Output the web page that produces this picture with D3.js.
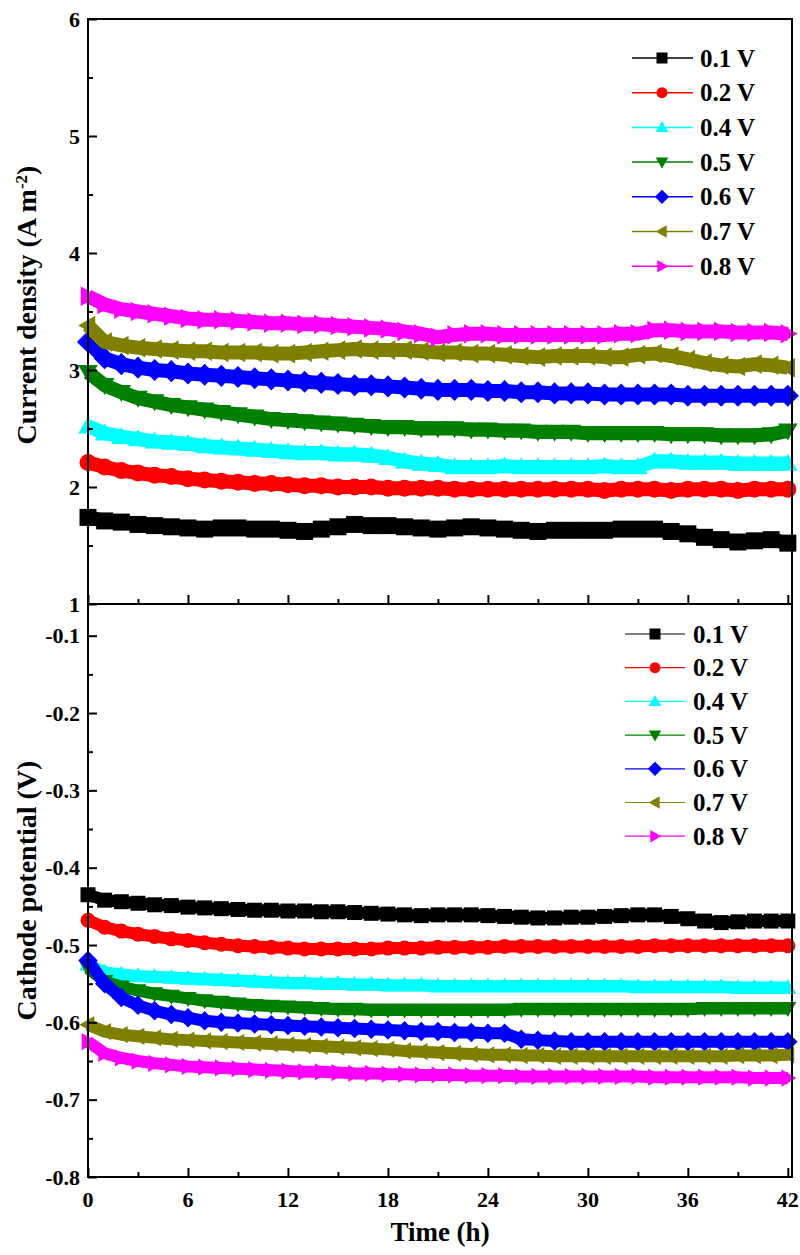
<!DOCTYPE html>
<html>
<head>
<meta charset="utf-8">
<script src="https://cdn.jsdelivr.net/npm/d3@7"></script>
<style>
  body { margin: 0; background: #fff; }
  svg { display: block; }
</style>
</head>
<body>
<svg id="chart" width="800" height="1255"></svg>
<script>
// Sampling times (h)
const hours = [0,1,2,3,4,5,6,7,8,9,10,11,12,13,14,15,16,17,18,19,20,21,22,23,24,25,26,27,28,29,30,31,32,33,34,35,36,37,38,39,40,41,42];

const seriesNames  = ["0.1 V", "0.2 V", "0.4 V", "0.5 V", "0.6 V", "0.7 V", "0.8 V"];
const seriesColors = ["#000000", "#ff0000", "#00ffff", "#008000", "#0000ff", "#808000", "#ff00ff"];
const seriesShapes = ["square", "circle", "triangleUp", "triangleDown", "diamond", "triangleLeft", "triangleRight"];

// Current density (A m^-2) per applied voltage
const cd01 = [1.74,1.71,1.70,1.68,1.67,1.66,1.65,1.64,1.65,1.65,1.64,1.64,1.63,1.62,1.64,1.66,1.68,1.67,1.67,1.66,1.65,1.64,1.65,1.66,1.65,1.64,1.63,1.62,1.63,1.63,1.63,1.63,1.64,1.64,1.64,1.62,1.60,1.57,1.55,1.53,1.54,1.55,1.52];
const cd02 = [2.21,2.17,2.14,2.12,2.10,2.09,2.07,2.06,2.05,2.04,2.03,2.03,2.02,2.01,2.01,2.00,2.00,2.00,1.99,1.99,1.99,1.99,1.98,1.98,1.98,1.98,1.98,1.98,1.98,1.98,1.98,1.97,1.98,1.98,1.98,1.97,1.98,1.98,1.98,1.97,1.98,1.98,1.98];
const cd04 = [2.52,2.46,2.43,2.41,2.39,2.38,2.37,2.35,2.34,2.33,2.32,2.31,2.30,2.29,2.29,2.28,2.28,2.27,2.25,2.22,2.20,2.19,2.17,2.17,2.17,2.18,2.17,2.17,2.17,2.17,2.17,2.18,2.17,2.17,2.22,2.22,2.21,2.21,2.21,2.20,2.20,2.20,2.20];
const cd05 = [2.98,2.87,2.81,2.76,2.73,2.70,2.68,2.66,2.64,2.62,2.60,2.58,2.57,2.56,2.55,2.54,2.53,2.52,2.51,2.51,2.50,2.50,2.50,2.49,2.49,2.48,2.48,2.47,2.47,2.47,2.46,2.46,2.46,2.46,2.46,2.45,2.45,2.45,2.44,2.44,2.44,2.45,2.48];
const cd06 = [3.24,3.10,3.05,3.02,3.00,2.99,2.97,2.96,2.95,2.94,2.93,2.92,2.91,2.90,2.89,2.88,2.87,2.87,2.86,2.85,2.84,2.83,2.83,2.83,2.82,2.82,2.81,2.81,2.80,2.80,2.80,2.79,2.79,2.79,2.79,2.79,2.78,2.78,2.78,2.78,2.78,2.78,2.78];
const cd07 = [3.38,3.24,3.21,3.19,3.18,3.17,3.16,3.16,3.15,3.15,3.15,3.14,3.14,3.15,3.16,3.17,3.18,3.17,3.17,3.17,3.16,3.15,3.15,3.14,3.14,3.13,3.12,3.11,3.12,3.12,3.12,3.11,3.11,3.13,3.14,3.12,3.09,3.06,3.04,3.03,3.05,3.04,3.02];
const cd08 = [3.63,3.56,3.52,3.50,3.48,3.46,3.44,3.43,3.43,3.42,3.41,3.40,3.40,3.39,3.39,3.38,3.37,3.36,3.35,3.33,3.31,3.28,3.30,3.31,3.31,3.30,3.30,3.30,3.30,3.30,3.30,3.30,3.31,3.31,3.34,3.34,3.33,3.33,3.33,3.32,3.32,3.32,3.31];

// Cathode potential (V) per applied voltage
const cp01 = [-0.435,-0.442,-0.444,-0.446,-0.448,-0.449,-0.451,-0.452,-0.453,-0.454,-0.455,-0.455,-0.456,-0.456,-0.457,-0.457,-0.458,-0.459,-0.460,-0.461,-0.462,-0.461,-0.461,-0.461,-0.462,-0.463,-0.464,-0.465,-0.465,-0.464,-0.464,-0.463,-0.462,-0.461,-0.461,-0.463,-0.466,-0.469,-0.471,-0.470,-0.469,-0.469,-0.469];
const cp02 = [-0.468,-0.477,-0.482,-0.486,-0.489,-0.492,-0.494,-0.497,-0.499,-0.501,-0.502,-0.503,-0.504,-0.505,-0.505,-0.505,-0.505,-0.505,-0.504,-0.504,-0.504,-0.503,-0.503,-0.503,-0.503,-0.502,-0.502,-0.502,-0.502,-0.502,-0.502,-0.502,-0.502,-0.502,-0.501,-0.501,-0.501,-0.501,-0.501,-0.501,-0.501,-0.501,-0.501];
const cp04 = [-0.525,-0.535,-0.538,-0.540,-0.541,-0.542,-0.543,-0.544,-0.545,-0.546,-0.547,-0.548,-0.549,-0.549,-0.550,-0.550,-0.551,-0.551,-0.552,-0.552,-0.552,-0.553,-0.553,-0.553,-0.553,-0.553,-0.553,-0.553,-0.553,-0.553,-0.553,-0.553,-0.553,-0.554,-0.554,-0.554,-0.554,-0.554,-0.554,-0.555,-0.555,-0.555,-0.555];
const cp05 = [-0.530,-0.547,-0.554,-0.559,-0.563,-0.566,-0.569,-0.572,-0.574,-0.576,-0.578,-0.579,-0.580,-0.581,-0.582,-0.583,-0.583,-0.584,-0.584,-0.584,-0.584,-0.584,-0.584,-0.584,-0.584,-0.584,-0.583,-0.583,-0.583,-0.583,-0.583,-0.583,-0.583,-0.583,-0.583,-0.583,-0.583,-0.582,-0.582,-0.582,-0.582,-0.582,-0.582];
const cp06 = [-0.520,-0.550,-0.568,-0.578,-0.585,-0.590,-0.594,-0.598,-0.600,-0.601,-0.602,-0.603,-0.604,-0.605,-0.606,-0.607,-0.608,-0.609,-0.610,-0.611,-0.612,-0.612,-0.613,-0.613,-0.614,-0.614,-0.622,-0.623,-0.624,-0.625,-0.625,-0.625,-0.625,-0.625,-0.625,-0.625,-0.625,-0.625,-0.625,-0.625,-0.625,-0.625,-0.625];
const cp07 = [-0.603,-0.612,-0.616,-0.618,-0.620,-0.622,-0.623,-0.624,-0.625,-0.626,-0.627,-0.628,-0.629,-0.630,-0.631,-0.632,-0.633,-0.634,-0.635,-0.637,-0.638,-0.639,-0.640,-0.641,-0.642,-0.642,-0.643,-0.643,-0.644,-0.644,-0.644,-0.644,-0.644,-0.644,-0.644,-0.644,-0.644,-0.644,-0.644,-0.643,-0.643,-0.643,-0.642];
const cp08 = [-0.625,-0.640,-0.646,-0.650,-0.653,-0.655,-0.657,-0.658,-0.659,-0.660,-0.661,-0.662,-0.663,-0.664,-0.664,-0.665,-0.666,-0.666,-0.667,-0.667,-0.668,-0.668,-0.668,-0.669,-0.669,-0.669,-0.670,-0.670,-0.670,-0.670,-0.670,-0.670,-0.670,-0.670,-0.671,-0.671,-0.671,-0.671,-0.671,-0.671,-0.672,-0.672,-0.672];

const currentSeries = [cd01, cd02, cd04, cd05, cd06, cd07, cd08];
const potentialSeries = [cp01, cp02, cp04, cp05, cp06, cp07, cp08];

// Tick values and their printed labels
const xMajorTicks = [0, 6, 12, 18, 24, 30, 36, 42];
const xTickLabels = ["0", "6", "12", "18", "24", "30", "36", "42"];
const xMinorTicks = [3, 9, 15, 21, 27, 33, 39];
const cdMajorTicks = [1, 2, 3, 4, 5, 6];
const cdTickLabels = ["1", "2", "3", "4", "5", "6"];
const cdMinorTicks = [1.5, 2.5, 3.5, 4.5, 5.5];
const cpMajorTicks = [-0.8, -0.7, -0.6, -0.5, -0.4, -0.3, -0.2, -0.1];
const cpTickLabels = ["-0.8", "-0.7", "-0.6", "-0.5", "-0.4", "-0.3", "-0.2", "-0.1"];
const cpMinorTicks = [-0.75, -0.65, -0.55, -0.45, -0.35, -0.25, -0.15];

const FONT = '"Liberation Serif", "Times New Roman", serif';

const svg = d3.select("#chart");

const left = 88, right = 792, topY = 19, midY = 604, bottomY = 1177;

const x = d3.scaleLinear().domain([0, 42.25]).range([left, right]);
const yTop = d3.scaleLinear().domain([1, 6]).range([midY, topY]);
const yBot = d3.scaleLinear().domain([-0.8, -0.059]).range([bottomY, midY]);

// Marker outline for a given shape, centred on 0,0
function shapePath(shape, r) {
  switch (shape) {
    case "square": return `M${-r},${-r}H${r}V${r}H${-r}Z`;
    case "circle": { const p = d3.path(); p.arc(0, 0, r, 0, 2 * Math.PI); return p.toString(); }
    case "triangleUp": return `M0,${-r * 1.15}L${r * 1.15},${r * 0.85}L${-r * 1.15},${r * 0.85}Z`;
    case "triangleDown": return `M0,${r * 1.15}L${r * 1.15},${-r * 0.85}L${-r * 1.15},${-r * 0.85}Z`;
    case "triangleLeft": return `M${-r * 1.15},0L${r * 0.85},${-r * 1.15}L${r * 0.85},${r * 1.15}Z`;
    case "triangleRight": return `M${r * 1.15},0L${-r * 0.85},${-r * 1.15}L${-r * 0.85},${r * 1.15}Z`;
    case "diamond": return `M0,${-r * 1.3}L${r * 1.3},0L0,${r * 1.3}L${-r * 1.3},0Z`;
  }
}

function drawSeries(g, seriesList, yScale, markerR, lineW) {
  seriesList.forEach((vals, i) => {
    const pts = hours.map((h, k) => [h, vals[k]]);
    const line = d3.line().x(d => x(d[0])).y(d => yScale(d[1]));
    g.append("path")
      .attr("d", line(pts))
      .attr("fill", "none")
      .attr("stroke", seriesColors[i])
      .attr("stroke-width", lineW)
      .attr("stroke-linejoin", "round");
    g.selectAll(null).data(pts).enter().append("path")
      .attr("d", shapePath(seriesShapes[i], markerR))
      .attr("transform", d => `translate(${x(d[0])},${yScale(d[1])})`)
      .attr("fill", seriesColors[i]);
  });
}

drawSeries(svg.append("g"), currentSeries, yTop, 8.5, 14);
drawSeries(svg.append("g"), potentialSeries, yBot, 7.5, 12);

// Inward tick marks built with d3-axis (labels added separately below)
function tickOnly(g) {
  g.select(".domain").remove();
  g.selectAll(".tick text").remove();
  g.selectAll(".tick line").attr("stroke", "#000").attr("stroke-width", 2);
}
function addTicks(axisFn, scale, values, size, transform) {
  svg.append("g").attr("transform", transform)
    .call(axisFn(scale).tickValues(values).tickSize(-size).tickFormat(""))
    .call(tickOnly);
}
addTicks(d3.axisLeft, yTop, cdMajorTicks, 9, `translate(${left},0)`);
addTicks(d3.axisLeft, yTop, cdMinorTicks, 5, `translate(${left},0)`);
addTicks(d3.axisLeft, yBot, cpMajorTicks, 9, `translate(${left},0)`);
addTicks(d3.axisLeft, yBot, cpMinorTicks, 5, `translate(${left},0)`);
addTicks(d3.axisBottom, x, xMajorTicks, 9, `translate(0,${midY})`);
addTicks(d3.axisBottom, x, xMinorTicks, 5, `translate(0,${midY})`);
addTicks(d3.axisBottom, x, xMajorTicks, 9, `translate(0,${bottomY})`);
addTicks(d3.axisBottom, x, xMinorTicks, 5, `translate(0,${bottomY})`);

// Tick labels
function label(g, tx, ty, txt, anchor, size) {
  g.append("text")
    .attr("x", tx).attr("y", ty)
    .attr("text-anchor", anchor)
    .attr("font-family", FONT)
    .attr("font-weight", "bold")
    .attr("font-size", size)
    .attr("fill", "#000")
    .text(txt);
}
const labels = svg.append("g");
cdMajorTicks.forEach((v, i) => label(labels, left - 8, yTop(v) + 7.5, cdTickLabels[i], "end", 22));
cpMajorTicks.forEach((v, i) => label(labels, left - 8, yBot(v) + 7.5, cpTickLabels[i], "end", 22));
xMajorTicks.forEach((v, i) => label(labels, x(v), bottomY + 30, xTickLabels[i], "middle", 22));

// Panel frames
svg.append("rect").attr("x", left).attr("y", topY).attr("width", right - left).attr("height", midY - topY)
  .attr("fill", "none").attr("stroke", "#000").attr("stroke-width", 2);
svg.append("rect").attr("x", left).attr("y", midY).attr("width", right - left).attr("height", bottomY - midY)
  .attr("fill", "none").attr("stroke", "#000").attr("stroke-width", 2);

// Legends
function drawLegend(x0, x1, xm, xt, y0, dy, lineW) {
  const g = svg.append("g");
  seriesNames.forEach((name, i) => {
    const yy = y0 + i * dy;
    g.append("line").attr("x1", x0).attr("x2", x1).attr("y1", yy).attr("y2", yy)
      .attr("stroke", seriesColors[i]).attr("stroke-width", lineW);
    g.append("path").attr("d", shapePath(seriesShapes[i], 5.5))
      .attr("transform", `translate(${xm},${yy})`).attr("fill", seriesColors[i]);
    label(g, xt, yy + 8.5, name, "start", 25);
  });
}
drawLegend(632, 693, 662, 700, 58, 34.7, 1.5);
drawLegend(625, 685, 655, 693, 634, 33.7, 1.2);

// Axis titles
const t1 = svg.append("text")
  .attr("transform", `translate(36,305) rotate(-90)`)
  .attr("text-anchor", "middle")
  .attr("font-family", FONT).attr("font-weight", "bold").attr("font-size", 28);
t1.append("tspan").text("Current density (A m");
t1.append("tspan").attr("baseline-shift", "super").attr("font-size", 17).text("-2");
t1.append("tspan").text(")");

svg.append("text")
  .attr("transform", `translate(36,${(midY + bottomY) / 2}) rotate(-90)`)
  .attr("text-anchor", "middle")
  .attr("font-family", FONT).attr("font-weight", "bold").attr("font-size", 28)
  .text("Cathode potential (V)");

svg.append("text")
  .attr("x", (left + right) / 2).attr("y", 1241)
  .attr("text-anchor", "middle")
  .attr("font-family", FONT).attr("font-weight", "bold").attr("font-size", 27)
  .text("Time (h)");
</script>
</body>
</html>
